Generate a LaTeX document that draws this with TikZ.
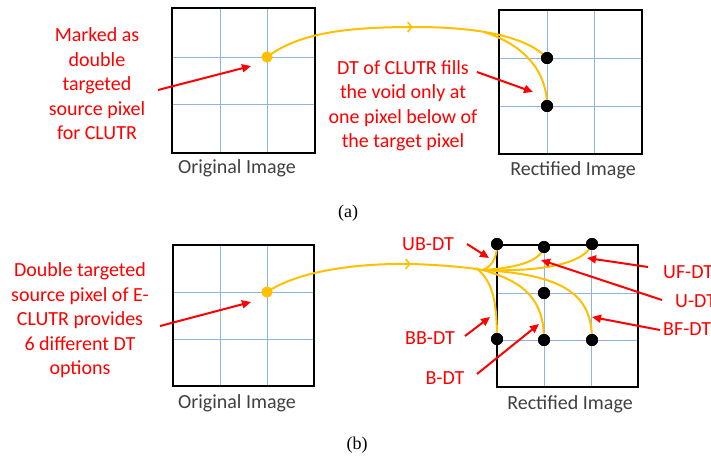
\documentclass[tikz,border=0pt]{standalone}
\usepackage{fontspec}
\setmainfont{Carlito}
\newfontfamily\capfont{Liberation Serif}
\usetikzlibrary{arrows.meta,decorations.markings}
\definecolor{gridblue}{HTML}{8EB4E3}
\definecolor{oyellow}{HTML}{FFC000}
\definecolor{capgray}{HTML}{404040}
\tikzset{
  imgbox/.style={draw=black,line width=2pt,minimum width=143pt,minimum height=145pt,inner sep=0pt},
  gridline/.style={draw=gridblue,line width=1pt},
  ocurve/.style={draw=oyellow,line width=2pt},
  midarrow/.style={postaction={decorate},decoration={markings,mark=at position 0.985 with {\arrow[oyellow,line width=1.6pt]{Straight Barb[length=4pt,width=10pt]}}}},
  odot/.style={circle,fill=oyellow,minimum size=11pt,inner sep=0pt},
  bdot/.style={circle,fill=black,minimum size=12pt,inner sep=0pt},
  redtxt/.style={text=red,align=center,font=\fontsize{20}{24.5}\selectfont,inner sep=0pt},
  redarrow/.style={draw=red,line width=2pt,-{Triangle[length=9pt,width=8pt]}},
  imgcap/.style={text=capgray,font=\fontsize{20}{24}\selectfont,inner sep=0pt},
  subcap/.style={font=\capfont\fontsize{18}{20}\selectfont,inner sep=0pt}
}
\begin{document}
\begin{tikzpicture}[x=1pt,y=-1pt]
\useasboundingbox[fill=white] (0,0) rectangle (711,459);

% ---------- panel (a) ----------
% original image
\draw[gridline] (220,8) -- (220,153) (267,8) -- (267,153) (172,57) -- (315,57) (172,104) -- (315,104);
\node[imgbox,minimum width=143pt,minimum height=145pt] (orgA) at (243.5,80.5) {};
\node[imgcap] (capOrgA) at (237,168) {Original Image};
% rectified image
\draw[gridline] (547,10) -- (547,154) (594,10) -- (594,154) (499,58) -- (642,58) (499,106) -- (642,106);
\node[imgbox,minimum width=143pt,minimum height=144pt] (recA) at (570.5,82) {};
\node[imgcap] (capRecA) at (573,170) {Rectified Image};

\node[odot] (srcA) at (267,57) {};
\coordinate (arrA) at (415,27);
\coordinate (brA) at (484,32);
\node[bdot] (tA1) at (547,58) {};
\node[bdot] (tA2) at (547,106) {};
\draw[ocurve,midarrow] (srcA.center) .. controls (300,32) and (350,27) .. (arrA);
\draw[ocurve] (arrA) .. controls (490,27) and (530,40) .. (tA1.center);
\draw[ocurve] (brA) .. controls (525,45) and (547,72) .. (tA2.center);
\node[bdot] at (tA1) {};
\node[bdot] at (tA2) {};
\node[odot] at (srcA) {};

\node[redtxt] (txtA1) at (97,84) {Marked as\\double\\targeted\\source pixel\\for CLUTR};
\coordinate (a1s) at (158,90);
\coordinate (a1e) at (251,66);
\draw[redarrow] (a1s) -- (a1e);
\node[redtxt] (txtA2) at (403,106) {DT of CLUTR fills\\the void only at\\one pixel below of\\the target pixel};
\coordinate (a2s) at (477,72);
\coordinate (a2e) at (533,92);
\draw[redarrow] (a2s) -- (a2e);

\node[subcap] (capA) at (348,213) {(a)};

% ---------- panel (b) ----------
\draw[gridline] (220,245) -- (220,386) (267,245) -- (267,386) (173,292) -- (314,292) (173,339) -- (314,339);
\node[imgbox,minimum width=141pt,minimum height=141pt] (orgB) at (243.5,315.5) {};
\node[imgcap] (capOrgB) at (237,403) {Original Image};

\draw[gridline] (544,245) -- (544,387) (591,245) -- (591,387) (497,293) -- (638,293) (497,340) -- (638,340);
\node[imgbox,minimum width=141pt,minimum height=142pt] (recB) at (567.5,316) {};
\node[imgcap] (capRecB) at (570,404) {Rectified Image};

\node[odot] (srcB) at (267,292) {};
\coordinate (arrB) at (413,264);
\coordinate (jB) at (483,270);
\coordinate (jBB) at (476,268);
\node[bdot] (ub) at (497,244) {};
\node[bdot] (u)  at (544,247) {};
\node[bdot] (uf) at (592,244) {};
\node[bdot] (mid) at (544,293) {};
\node[bdot] (bb) at (497,339) {};
\node[bdot] (b)  at (544,340) {};
\node[bdot] (bf) at (592,340) {};

\draw[ocurve,midarrow] (srcB.center) .. controls (300,270) and (360,263) .. (arrB);
\draw[ocurve] (arrB) .. controls (440,265) and (465,267) .. (jB);
\draw[ocurve] (jB) .. controls (492,266) and (497,258) .. (ub.center);
\draw[ocurve] (jB) .. controls (515,268) and (540,262) .. (u.center);
\draw[ocurve] (jB) .. controls (540,272) and (585,264) .. (uf.center);
\draw[ocurve] (jBB) .. controls (492,280) and (497,300) .. (bb.center);
\draw[ocurve] (jB) .. controls (525,282) and (544,300) .. (b.center);
\draw[ocurve] (jB) .. controls (565,275) and (592,295) .. (bf.center);
\foreach \d in {ub,u,uf,mid,bb,b,bf} \node[bdot] at (\d) {};
\node[odot] at (srcB) {};

\node[redtxt] (txtB) at (80,320.5) {Double targeted\\source pixel of E-\\CLUTR provides\\6 different DT\\options};
\coordinate (bs) at (160,326);
\coordinate (be) at (251,302);
\draw[redarrow] (bs) -- (be);

\node[redtxt] (lUB) at (428,244) {UB-DT};
\coordinate (ubs) at (467,244);
\coordinate (ube) at (489,258);
\draw[redarrow] (ubs) -- (ube);

\node[redtxt,anchor=west] (lUF) at (663,272) {UF-DT};
\coordinate (ufs) at (648,267);
\coordinate (ufe) at (587,258);
\draw[redarrow] (ufs) -- (ufe);

\node[redtxt,anchor=west] (lU) at (675,301) {U-DT};
\coordinate (us) at (662,300);
\coordinate (ue) at (541,260);
\draw[redarrow] (us) -- (ue);

\node[redtxt,anchor=west] (lBF) at (663,329) {BF-DT};
\coordinate (bfs) at (660,330);
\coordinate (bfe) at (592,317);
\draw[redarrow] (bfs) -- (bfe);

\node[redtxt] (lBB) at (430,338) {BB-DT};
\coordinate (bbs) at (465,336);
\coordinate (bbe) at (490,317);
\draw[redarrow] (bbs) -- (bbe);

\node[redtxt] (lB) at (445,378) {B-DT};
\coordinate (b2s) at (477,374);
\coordinate (b2e) at (539,324);
\draw[redarrow] (b2s) -- (b2e);

\node[subcap] (capB) at (357,445) {(b)};
\end{tikzpicture}
\end{document}
